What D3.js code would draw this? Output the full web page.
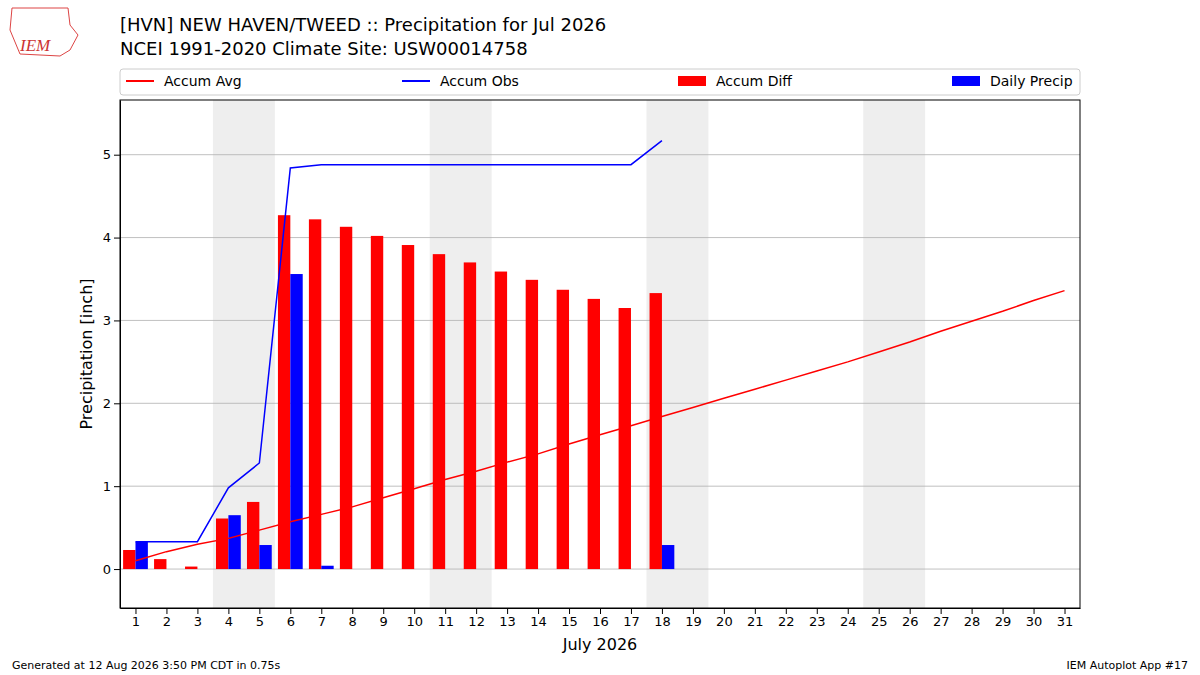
<!DOCTYPE html>
<html><head><meta charset="utf-8">
<script src="https://cdn.jsdelivr.net/npm/d3@7"></script>
<style>body{margin:0;background:#fff;font-family:"DejaVu Sans",sans-serif}</style>
</head><body>
<svg id="c" width="1200" height="675"></svg>
<script>
// values
var days = d3.range(1, 32);
var accumAvg = [0.10,0.21,0.30,0.37,0.47,0.57,0.66,0.75,0.86,0.97,1.08,1.18,1.29,1.39,1.51,1.62,1.73,1.84,1.95,2.06,2.17,2.28,2.39,2.50,2.62,2.74,2.87,2.99,3.11,3.24,3.36];
var accumObs = [0.33,0.33,0.33,0.98,1.28,4.84,4.88,4.88,4.88,4.88,4.88,4.88,4.88,4.88,4.88,4.88,4.88,5.17];
var dailyPrecip = [0.33,0,0,0.65,0.29,3.56,0.04,0,0,0,0,0,0,0,0,0,0,0.29];
var accumDiff = [0.23,0.12,0.03,0.61,0.81,4.27,4.22,4.13,4.02,3.91,3.80,3.70,3.59,3.49,3.37,3.26,3.15,3.33];
var weekends = [[3.5,5.5],[10.5,12.5],[17.5,19.5],[24.5,26.5]];
var yTicks = [0,1,2,3,4,5];

var svg = d3.select("#c");
var L = 120, R = 1080, T = 100, B = 608;
var x = d3.scaleLinear().domain([0.5, 31.5]).range([L, R]);
var y = d3.scaleLinear().domain([-0.47, 5.66]).range([B, T]);

// weekend shading
svg.selectAll(".wk").data(weekends).enter().append("rect")
	.attr("x", d => x(d[0])).attr("width", d => x(d[1]) - x(d[0]))
	.attr("y", T).attr("height", B - T).attr("fill", "#eeeeee");

// grid
svg.selectAll(".gl").data(yTicks).enter().append("line")
	.attr("x1", L).attr("x2", R).attr("y1", d => y(d)).attr("y2", d => y(d))
	.attr("stroke", "#b0b0b0").attr("stroke-width", 0.8);

var bw = x(1.4) - x(1);
svg.selectAll(".rd").data(accumDiff).enter().append("rect")
	.attr("x", (d, i) => x(i + 1) - bw).attr("width", bw)
	.attr("y", d => y(Math.max(d, 0))).attr("height", d => Math.abs(y(d) - y(0)))
	.attr("fill", "red");
svg.selectAll(".bl").data(dailyPrecip).enter().append("rect")
	.attr("x", (d, i) => x(i + 1)).attr("width", bw)
	.attr("y", d => y(d)).attr("height", d => y(0) - y(d))
	.attr("fill", "blue");

var line = d3.line().x((d, i) => x(i + 1)).y(d => y(d));
svg.append("path").datum(accumAvg).attr("d", line).attr("fill", "none").attr("stroke", "red").attr("stroke-width", 1.5);
svg.append("path").datum(accumObs).attr("d", line).attr("fill", "none").attr("stroke", "blue").attr("stroke-width", 1.5);

// axes
svg.append("g").attr("transform", "translate(0," + B + ")")
	.call(d3.axisBottom(x).tickValues(days).tickFormat(d3.format("d")).tickSizeOuter(0))
	.call(g => g.selectAll("text").attr("font-size", 13).attr("fill", "#000").attr("font-family", "DejaVu Sans"));
svg.append("g").attr("transform", "translate(" + L + ",0)")
	.call(d3.axisLeft(y).tickValues(yTicks).tickFormat(d3.format("d")).tickSizeOuter(0))
	.call(g => g.selectAll("text").attr("font-size", 13).attr("fill", "#000").attr("font-family", "DejaVu Sans"));
svg.append("rect").attr("x", L).attr("y", T).attr("width", R - L).attr("height", B - T)
	.attr("fill", "none").attr("stroke", "#000");

svg.append("text").attr("x", (L + R) / 2).attr("y", 650).attr("text-anchor", "middle")
	.attr("font-size", 16).text("July 2026");
svg.append("text").attr("transform", "translate(92," + (T + B) / 2 + ") rotate(-90)")
	.attr("text-anchor", "middle").attr("font-size", 16).text("Precipitation [inch]");

// titles
svg.append("text").attr("x", 120).attr("y", 31).attr("font-size", 18).text("[HVN] NEW HAVEN/TWEED :: Precipitation for Jul 2026");
svg.append("text").attr("x", 120).attr("y", 55).attr("font-size", 18).text("NCEI 1991-2020 Climate Site: USW00014758");

// legend
svg.append("rect").attr("x", 120).attr("y", 69).attr("width", 960).attr("height", 26)
	.attr("fill", "#fff").attr("stroke", "#ccc").attr("rx", 3);
var leg = [
	{t: "Accum Avg", c: "red", k: "line", x: 126},
	{t: "Accum Obs", c: "blue", k: "line", x: 402},
	{t: "Accum Diff", c: "red", k: "box", x: 678},
	{t: "Daily Precip", c: "blue", k: "box", x: 952}
];
leg.forEach(function(d) {
	if (d.k == "line") svg.append("line").attr("x1", d.x).attr("x2", d.x + 28).attr("y1", 81).attr("y2", 81).attr("stroke", d.c).attr("stroke-width", 2);
	else svg.append("rect").attr("x", d.x).attr("y", 76).attr("width", 28).attr("height", 10).attr("fill", d.c);
	svg.append("text").attr("x", d.x + 38).attr("y", 86).attr("font-size", 14).text(d.t);
});

// logo stand-in
svg.append("path").attr("d", "M12,8 L68,8 L70,25 L78,35 L70,50 L60,56 L20,54 L10,30 Z")
	.attr("fill", "#fff").attr("stroke", "#d44").attr("stroke-width", 1);
svg.append("text").attr("x", 20).attr("y", 51).attr("font-size", 17).attr("font-style", "italic")
	.attr("font-family", "Liberation Serif").attr("fill", "#c33").text("IEM");

svg.append("text").attr("x", 12).attr("y", 669).attr("font-size", 11).text("Generated at 12 Aug 2026 3:50 PM CDT in 0.75s");
svg.append("text").attr("x", 1188).attr("y", 669).attr("font-size", 11).attr("text-anchor", "end").text("IEM Autoplot App #17");
</script>
</body></html>
